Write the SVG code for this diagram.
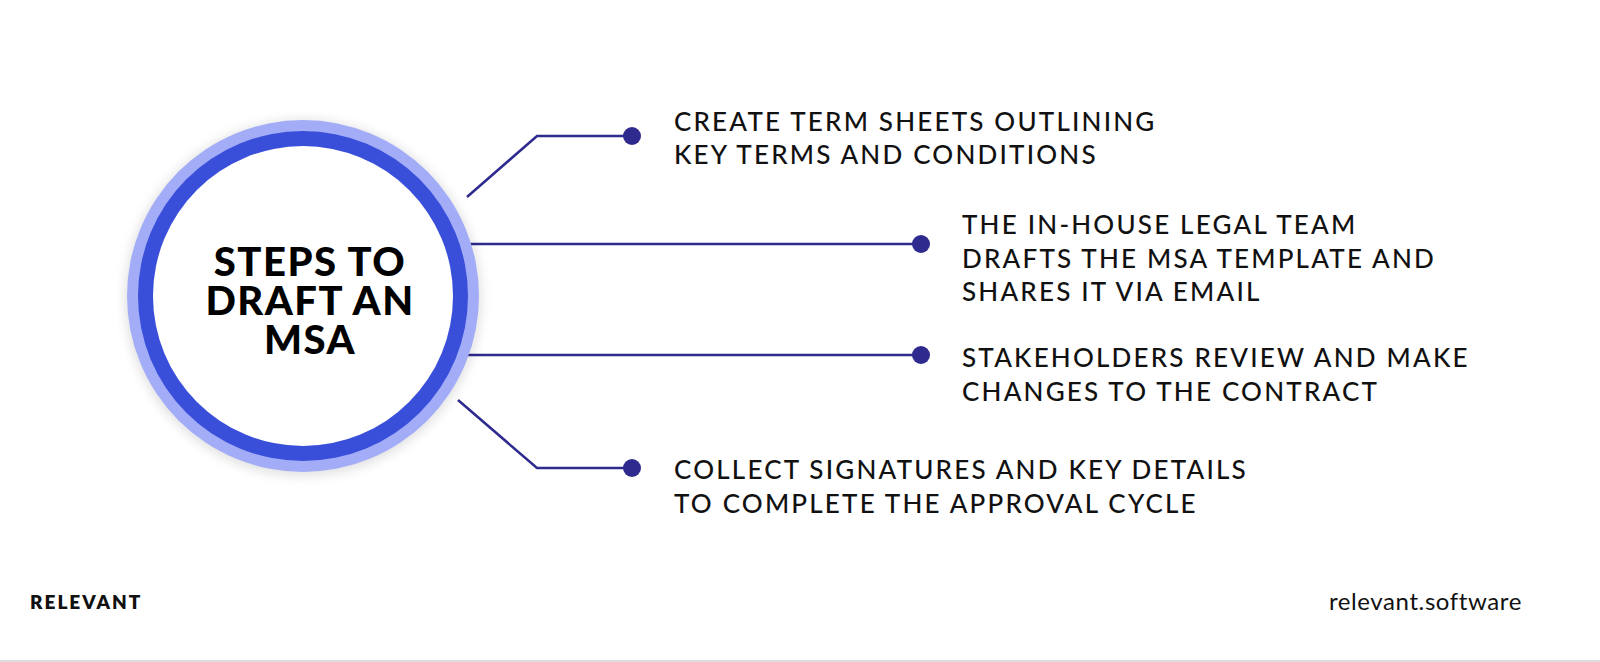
<svg xmlns="http://www.w3.org/2000/svg" width="1600" height="662" viewBox="0 0 1600 662">
<style>
.t{font-family:Lato,"Liberation Sans",sans-serif;font-size:26px;font-weight:500;fill:#111;letter-spacing:2.2px}
.c{fill:none;stroke:#2e2a8e;stroke-width:2.5}
.d{fill:#2e2a8e}
</style>
<defs><filter id="sh" x="-20%" y="-20%" width="140%" height="140%"><feGaussianBlur stdDeviation="6"/></filter></defs>
<rect width="1600" height="662" fill="#fff"/>
<g id="connectors">
<polyline class="c" points="467,197 537,136 632,136"/>
<line class="c" x1="470" y1="244" x2="921" y2="244"/>
<line class="c" x1="467" y1="355" x2="921" y2="355"/>
<polyline class="c" points="458,400 537,468 632,468"/>
<circle class="d" cx="632" cy="136" r="9"/>
<circle class="d" cx="921" cy="244" r="9"/>
<circle class="d" cx="921" cy="355" r="9"/>
<circle class="d" cx="632" cy="468" r="9"/>
</g>
<g id="center">
<circle cx="303" cy="298" r="178" fill="#000" opacity="0.12" filter="url(#sh)"/>
<circle cx="303" cy="296" r="176" fill="#a3adf7"/>
<circle cx="303" cy="296" r="165" fill="#3a4fd9"/>
<circle cx="303" cy="296" r="150" fill="#fff"/>
<text font-family="Lato,'Liberation Sans',sans-serif" font-weight="900" font-size="40" letter-spacing="1.5" fill="#000" text-anchor="middle"><tspan x="310" y="276">STEPS TO</tspan><tspan x="310" y="315">DRAFT AN</tspan><tspan x="310" y="354">MSA</tspan></text>
</g>
<g id="step1"><text class="t"><tspan x="674" y="131">CREATE TERM SHEETS OUTLINING</tspan><tspan x="674" y="164">KEY TERMS AND CONDITIONS</tspan></text></g>
<g id="step2"><text class="t"><tspan x="962" y="234">THE IN-HOUSE LEGAL TEAM</tspan><tspan x="962" y="268">DRAFTS THE MSA TEMPLATE AND</tspan><tspan x="962" y="301">SHARES IT VIA EMAIL</tspan></text></g>
<g id="step3"><text class="t"><tspan x="962" y="367">STAKEHOLDERS REVIEW AND MAKE</tspan><tspan x="962" y="401">CHANGES TO THE CONTRACT</tspan></text></g>
<g id="step4"><text class="t"><tspan x="674" y="479">COLLECT SIGNATURES AND KEY DETAILS</tspan><tspan x="674" y="513">TO COMPLETE THE APPROVAL CYCLE</tspan></text></g>
<text x="30" y="609" font-family="Lato,'Liberation Sans',sans-serif" font-weight="800" font-size="19" letter-spacing="2" fill="#111">RELEVANT</text>
<text x="1522" y="610" text-anchor="end" font-family="Lato,'Liberation Sans',sans-serif" font-size="24" letter-spacing="0.6" fill="#111">relevant.software</text>
<line x1="0" y1="661" x2="1600" y2="661" stroke="#ddd" stroke-width="2"/>
</svg>
